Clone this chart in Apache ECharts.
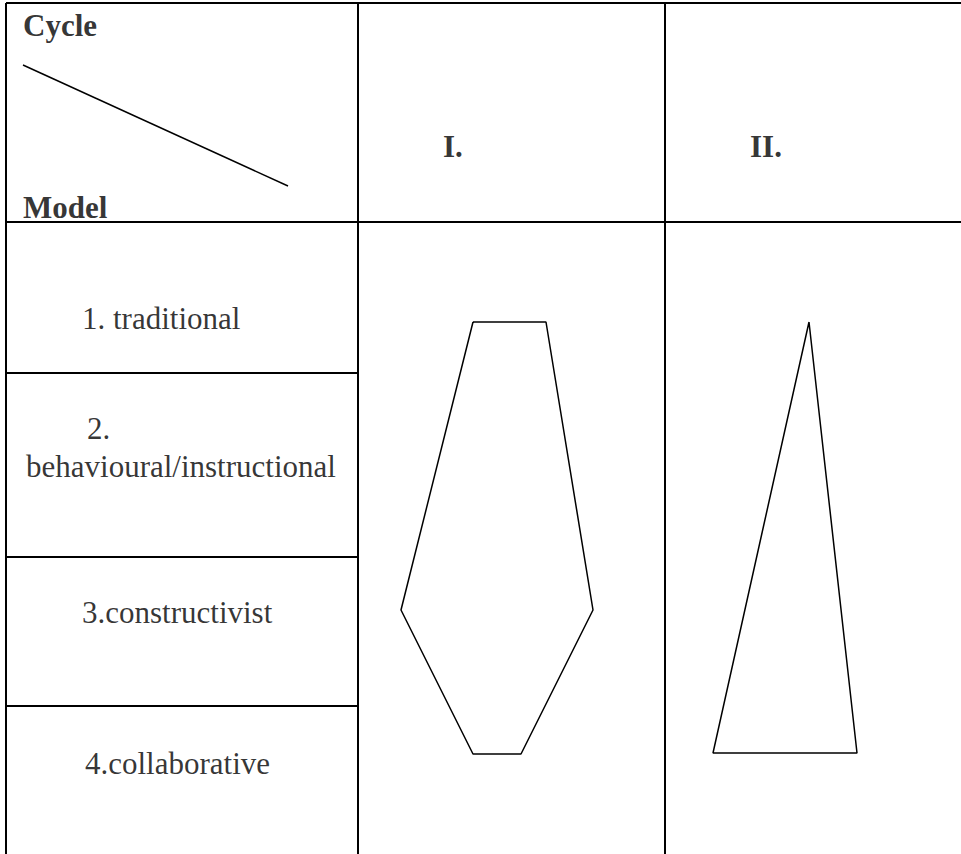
<!DOCTYPE html>
<html>
<head>
<meta charset="utf-8">
<script src="https://cdn.jsdelivr.net/npm/echarts@6/dist/echarts.min.js"></script>
<style>
html, body { margin: 0; padding: 0; background: #fff; }
#chart { width: 961px; height: 854px; }
</style>
</head>
<body>
<div id="chart"></div>
<script>
// table contents
var cornerLabels = ['Cycle', 'Model'];
var cycles = ['I.', 'II.'];
var models = ['1. traditional', '2. behavioural/instructional', '3.constructivist', '4.collaborative'];

// outline of each cycle (page units, y down)
var cycleIShape = [[473, 322], [546, 322], [593, 610], [521, 754], [473, 754], [401, 610], [473, 322]];
var cycleIIShape = [[809, 322], [857, 753], [713, 753], [809, 322]];

// layout of the table
var W = 961, H = 854;
var colX = [6, 358, 665];
var headTop = 3, headBottom = 222;
var rowLines = [373, 557, 706];
var diagonal = [[23, 65], [288, 186]];
var cornerPos = [[23, 25], [23, 207]];
var cyclePos = [[443, 146], [750, 146]];
var modelPos = [[[82, 318]], [[87, 428], [26, 466]], [[82, 612]], [[85, 763]]];

var FONT = 'Liberation Serif';

function lineSeries(data, width) {
    return {
        type: 'line',
        data: data,
        symbol: 'none',
        silent: true,
        animation: false,
        lineStyle: { color: '#000', width: width }
    };
}

var segments = [
    [[colX[0], headTop], [W, headTop]],
    [[colX[0], headBottom], [W, headBottom]]
];
rowLines.forEach(function (y) {
    segments.push([[colX[0], y], [colX[1], y]]);
});
colX.forEach(function (x) {
    segments.push([[x, headTop], [x, H]]);
});

var series = segments.map(function (s) { return lineSeries(s, 2); });
series.push(lineSeries(diagonal, 1.5));
series.push(lineSeries(cycleIShape, 1.5));
series.push(lineSeries(cycleIIShape, 1.5));

var texts = [];
cornerLabels.forEach(function (t, i) {
    texts.push({ value: cornerPos[i], name: t, bold: true });
});
cycles.forEach(function (t, i) {
    texts.push({ value: cyclePos[i], name: t, bold: true });
});
models.forEach(function (m, i) {
    var parts = modelPos[i].length > 1 ? [m.slice(0, m.indexOf(' ')), m.slice(m.indexOf(' ') + 1)] : [m];
    parts.forEach(function (p, j) {
        texts.push({ value: modelPos[i][j], name: p, bold: false });
    });
});

series.push({
    type: 'scatter',
    symbolSize: 0,
    silent: true,
    animation: false,
    data: texts.map(function (d) {
        return {
            value: d.value,
            name: d.name,
            label: {
                color: '#000',
                fontFamily: FONT,
                fontWeight: d.bold ? 'bold' : 'normal'
            }
        };
    }),
    label: {
        show: true,
        position: 'right',
        distance: 0,
        formatter: '{b}',
        color: '#000',
        fontFamily: FONT,
        fontSize: 31,
        align: 'left',
        verticalAlign: 'middle'
    }
});

var chart = echarts.init(document.getElementById('chart'), null, { renderer: 'svg' });
chart.setOption({
    backgroundColor: '#fff',
    animation: false,
    textStyle: { fontFamily: FONT },
    grid: { left: 0, right: 0, top: 0, bottom: 0 },
    xAxis: { type: 'value', min: 0, max: W, show: false },
    yAxis: { type: 'value', min: 0, max: H, inverse: true, show: false },
    series: series
});
</script>
</body>
</html>
